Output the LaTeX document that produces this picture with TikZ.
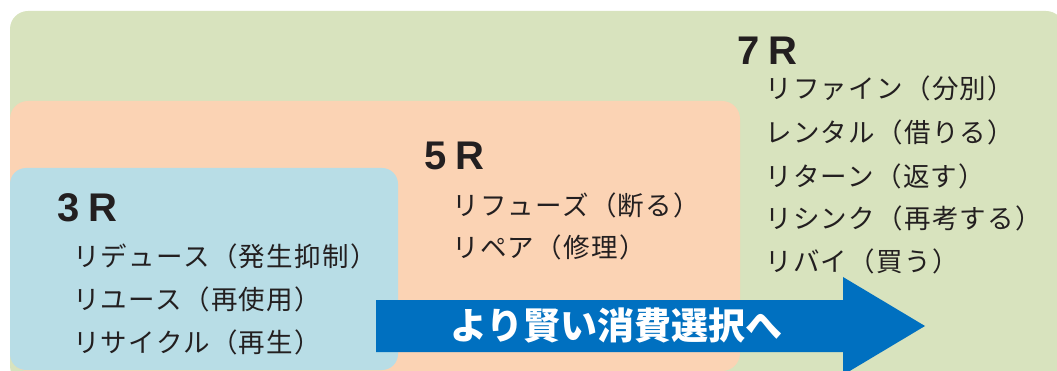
\documentclass[tikz,border=0pt]{standalone}
\usepackage{fontspec}
\newfontfamily\jp{Noto Sans CJK JP}[LetterSpace=5]
\newfontfamily\jpb{Noto Sans CJK JP}
\newfontfamily\hd{Liberation Sans}
\definecolor{grn}{RGB}{216,227,190}
\definecolor{org}{RGB}{251,211,180}
\definecolor{blu}{RGB}{184,221,230}
\definecolor{arr}{RGB}{0,112,192}
\definecolor{ink}{RGB}{35,31,32}
\tikzset{
  item/.style={anchor=base west, inner sep=0pt, text=ink, font=\jp\fontsize{26.5}{26.5}\selectfont},
  head/.style={anchor=base west, inner sep=0pt, text=ink, font=\hd\bfseries\fontsize{40}{40}\selectfont},
  box/.style={rounded corners=18pt}
}
\begin{document}
\begin{tikzpicture}[x=1pt,y=-1pt]
\useasboundingbox (0,0) rectangle (1057,371);
\clip (0,0) rectangle (1057,371);
\fill[grn, box] (10,11) rectangle (1064,384);
\fill[org, box] (10,101) rectangle (740,371);
\fill[blu, rounded corners=16pt] (10,168) rectangle (398,370);
% arrow
\fill[arr] (376,300) -- (843,300) -- (843,277) -- (925,326) -- (843,375) -- (843,352) -- (376,352) -- cycle;
\node[anchor=west, inner sep=0pt, text=white, font=\jpb\bfseries\fontsize{37}{37}\selectfont] (arrtxt) at (450,325) {より賢い消費選択へ};
% 3R
\node[head] (h3) at (57,222) {3\hspace{9pt}R};
\node[item] (r1) at (73,266) {リデュース（発生抑制）};
\node[item] (r2) at (73,309) {リユース（再使用）};
\node[item] (r3) at (73,352) {リサイクル（再生）};
% 5R
\node[head] (h5) at (424,170) {5\hspace{9pt}R};
\node[item] (r4) at (452,216) {リフューズ（断る）};
\node[item] (r5) at (452,258) {リペア（修理）};
% 7R
\node[head] (h7) at (737,65) {7\hspace{9pt}R};
\node[item] (r6) at (765,99) {リファイン（分別）};
\node[item] (r7) at (765,143) {レンタル（借りる）};
\node[item] (r8) at (765,187) {リターン（返す）};
\node[item] (r9) at (765,229) {リシンク（再考する）};
\node[item] (r10) at (765,272) {リバイ（買う）};
\end{tikzpicture}
\end{document}
